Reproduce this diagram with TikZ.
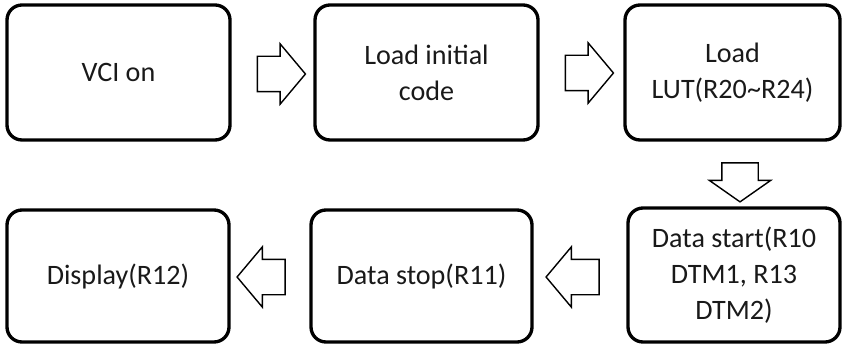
\documentclass[tikz,border=0pt]{standalone}
\usepackage{fontspec}
\setmainfont{Carlito}
\usetikzlibrary{shapes.arrows}

\tikzset{
  stepbox/.style={draw, line width=1.9pt, rounded corners=0.3cm, align=center,
    font=\fontsize{16}{20.5}\selectfont, text=black!90, inner sep=0pt},
  flowarrow/.style={draw, line width=0.8pt, single arrow, fill=white,
    minimum height=0.96cm, single arrow head extend=0.25cm,
    single arrow tip angle=100, inner xsep=0pt, inner ysep=0.34cm}
}

\begin{document}
\begin{tikzpicture}
          \useasboundingbox (0,0) rectangle (16.9,6.9);

          \node[stepbox, minimum width=4.46cm, minimum height=2.70cm] (vci) at (2.37, 5.45) {VCI on};
          \node[stepbox, minimum width=4.46cm, minimum height=2.70cm] (init) at (8.53, 5.45) {Load initial\\code};
          \node[stepbox, minimum width=4.30cm, minimum height=2.70cm] (lut) at (14.65, 5.45) {Load\\LUT(R20\textasciitilde R24)};

          \node[stepbox, minimum width=4.24cm, minimum height=2.68cm] (start) at (14.68, 1.40) {Data start(R10\\DTM1, R13\\DTM2)};
          \node[stepbox, minimum width=4.42cm, minimum height=2.64cm] (stop) at (8.43, 1.38) {Data stop(R11)};
          \node[stepbox, minimum width=4.44cm, minimum height=2.64cm] (disp) at (2.36, 1.38) {Display(R12)};

          % block arrows between the steps
          \node[flowarrow] (vciinit) at (5.48, 5.42) {};
          \node[flowarrow] (initlut) at (11.64, 5.44) {};
          \node[flowarrow, shape border rotate=270, minimum height=0.78cm,
                inner xsep=0.35cm, inner ysep=0pt, single arrow tip angle=110] (lutstart) at (14.80, 3.38) {};
          \node[flowarrow, shape border rotate=180, minimum height=1.06cm] (startstop) at (11.60, 1.36) {};
          \node[flowarrow, shape border rotate=180] (stopdisp) at (5.37, 1.36) {};
\end{tikzpicture}
\end{document}
